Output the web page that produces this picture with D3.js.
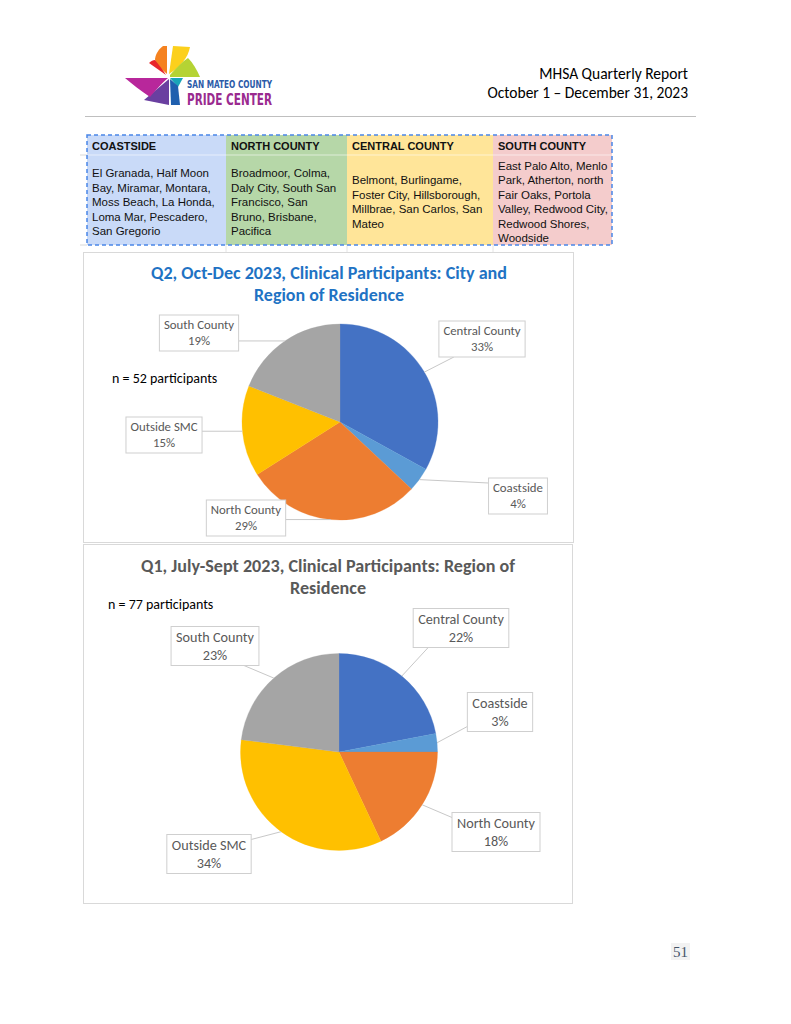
<!DOCTYPE html>
<html><head><meta charset="utf-8">
<script src="https://cdn.jsdelivr.net/npm/d3@7/dist/d3.min.js"></script>
<style>body{margin:0;background:#fff}svg{display:block}</style>
</head><body><svg id="page" width="791" height="1024"></svg>
<script>
// ---------------- data ----------------
const regionColumns = ["COASTSIDE", "NORTH COUNTY", "CENTRAL COUNTY", "SOUTH COUNTY"];
const regionCities = [
  ["El Granada, Half Moon", "Bay, Miramar, Montara,", "Moss Beach, La Honda,", "Loma Mar, Pescadero,", "San Gregorio"],
  ["Broadmoor, Colma,", "Daly City, South San", "Francisco, San", "Bruno, Brisbane,", "Pacifica"],
  ["Belmont, Burlingame,", "Foster City, Hillsborough,", "Millbrae, San Carlos, San", "Mateo"],
  ["East Palo Alto, Menlo", "Park, Atherton, north", "Fair Oaks, Portola", "Valley, Redwood City,", "Redwood Shores,", "Woodside"]
];
const categories = ["Central County", "Coastside", "North County", "Outside SMC", "South County"];
const q2Values = [33, 4, 29, 15, 19];   // percent, Oct-Dec 2023
const q1Values = [22, 3, 18, 34, 23];   // percent, July-Sept 2023
const q2Participants = 52;
const q1Participants = 77;
const q2Title = ["Q2, Oct-Dec 2023, Clinical Participants: City and", "Region of Residence"];
const q1Title = ["Q1, July-Sept 2023, Clinical Participants: Region of", "Residence"];
const headerLines = ["MHSA Quarterly Report", "October 1 \u2013 December 31, 2023"];
const pageNumber = "51";

// ---------------- styles / layout ----------------
const sliceColors = ["#4472C4", "#5B9BD5", "#ED7D31", "#FFC000", "#A5A5A5"];
const columnFills = ["#c9daf8", "#b6d7a8", "#ffe599", "#f4cccc"];
const CAL = "Carlito, Calibri, Lato, 'Open Sans', sans-serif";
const ARIAL = "'Liberation Sans', Arial, sans-serif";

const svg = d3.select("#page");
svg.append("rect").attr("width", 791).attr("height", 1024).attr("fill", "#fff");

// ---------------- logo ----------------
const petals = [
  ["#f58220", "M167,74 C160,68 155,63 155,59 C156,53 159,49 163,46 L167,46 Z"],
  ["#fcd01c", "M169,74 L173,46 L190,47 C188,58 180,67 169,74 Z"],
  ["#e8262a", "M166,75 L149,63 C151,61 153,60 155,60 C159,65 163,70 166,75 Z"],
  ["#b5d334", "M170,75 C176,68 182,62 188,58 C193,63 197,70 200,77 L170,77 Z"],
  ["#19a5b8", "M170,78 L183,78 L178,87 Z"],
  ["#1f5fae", "M170,79 L178,86 L180,105 L171,105 Z"],
  ["#6a3fa0", "M169,79 L169,105 L144,100 Z"],
  ["#b8279b", "M125,78 L168,78 C160,85 155,91 150,97 C140,90 132,84 125,78 Z"]
];
svg.append("g").selectAll("path").data(petals).join("path").attr("fill", d => d[0]).attr("d", d => d[1]);
svg.append("text").attr("x", 187).attr("y", 88).attr("font-family", "'Liberation Sans Narrow', 'DejaVu Sans Condensed', sans-serif")
  .attr("font-weight", "bold").attr("font-size", 11).attr("fill", "#2b5aa8")
  .attr("textLength", 85).attr("lengthAdjust", "spacingAndGlyphs").text("SAN MATEO COUNTY");
svg.append("text").attr("x", 187).attr("y", 105).attr("font-family", "'Liberation Sans Narrow', 'DejaVu Sans Condensed', sans-serif")
  .attr("font-weight", "bold").attr("font-size", 16.5).attr("fill", "#9a2a8f")
  .attr("textLength", 85).attr("lengthAdjust", "spacingAndGlyphs").text("PRIDE CENTER");

// ---------------- header ----------------
svg.selectAll("text.hdr").data(headerLines).join("text").attr("class", "hdr")
  .attr("x", 688).attr("y", (d, i) => 79 + i * 19).attr("text-anchor", "end")
  .attr("font-family", CAL).attr("font-size", 15.5).attr("fill", "#000").text(d => d);
svg.append("line").attr("x1", 85).attr("x2", 696).attr("y1", 116.5).attr("y2", 116.5)
  .attr("stroke", "#bfbfbf").attr("stroke-width", 1);

// ---------------- region table ----------------
const colEdges = [87, 226, 347, 493, 612];
const tTop = 135, tHead = 155, tBot = 245;
const tbl = svg.append("g");
[155, 245].forEach(y => tbl.append("line").attr("x1", 80).attr("x2", 87).attr("y1", y).attr("y2", y).attr("stroke", "#d8d8d8"));
colEdges.slice(1, 4).forEach(x => tbl.append("line").attr("x1", x).attr("x2", x).attr("y1", 245).attr("y2", 252).attr("stroke", "#e4e4e4"));
regionColumns.forEach((c, i) => {
  const x0 = colEdges[i], x1 = colEdges[i + 1];
  tbl.append("rect").attr("x", x0).attr("y", tTop).attr("width", x1 - x0).attr("height", tBot - tTop).attr("fill", columnFills[i]);
  tbl.append("text").attr("x", x0 + 5).attr("y", 150).attr("font-family", ARIAL).attr("font-weight", "bold")
    .attr("font-size", 11).attr("fill", "#111").text(c);
  const lines = regionCities[i];
  const n = lines.length;
  tbl.selectAll(null).data(lines).join("text").attr("x", x0 + 5)
    .attr("y", (d, j) => 206 + (j - (n - 1) / 2) * 14.5)
    .attr("font-family", ARIAL).attr("font-size", 11.5).attr("fill", "#111").text(d => d);
});
tbl.append("line").attr("x1", 87).attr("x2", 612).attr("y1", tHead).attr("y2", tHead).attr("stroke", "#ffffff").attr("stroke-opacity", 0.55);
tbl.append("rect").attr("x", 87).attr("y", tTop).attr("width", 612 - 87).attr("height", tBot - tTop)
  .attr("fill", "none").attr("stroke", "#4a86e8").attr("stroke-width", 1.5).attr("stroke-dasharray", "4,3");

// ---------------- pie charts ----------------
function pieChart(cfg) {
  const g = svg.append("g");
  g.append("rect").attr("x", cfg.box[0] + 0.5).attr("y", cfg.box[1] + 0.5).attr("width", cfg.box[2]).attr("height", cfg.box[3])
    .attr("fill", "#fff").attr("stroke", "#d9d9d9");
  g.selectAll("text.title").data(cfg.title).join("text").attr("class", "title")
    .attr("x", cfg.titleX).attr("y", (d, i) => cfg.titleY + i * 22).attr("text-anchor", "middle")
    .attr("font-family", CAL).attr("font-weight", "bold").attr("font-size", 17).attr("fill", cfg.titleColor)
    .attr("textLength", (d, i) => cfg.titleLen[i]).attr("lengthAdjust", "spacingAndGlyphs").text(d => d);
  g.append("text").attr("x", cfg.nPos[0]).attr("y", cfg.nPos[1]).attr("font-family", CAL).attr("font-size", 14)
    .attr("fill", "#000").text(`n = ${cfg.n} participants`);

  const pie = d3.pie().sort(null).value(d => d.v);
  const arcs = pie(cfg.values.map((v, i) => ({ v, c: categories[i], col: sliceColors[i] })));
  const arc = d3.arc().innerRadius(0).outerRadius(cfg.r);
  const pg = g.append("g").attr("transform", `translate(${cfg.cx},${cfg.cy})`);
  pg.selectAll("path").data(arcs).join("path").attr("d", arc).attr("fill", d => d.data.col)
    .attr("stroke", d => d.data.col).attr("stroke-width", 0.3);

  const fmt = d3.format(".0%");
  arcs.forEach((a, i) => {
    const mid = (a.startAngle + a.endAngle) / 2;
    const px = cfg.cx + cfg.r * Math.sin(mid), py = cfg.cy - cfg.r * Math.cos(mid);
    const lg = g.append("g");
    const bx = cfg.cx + cfg.labelOffsets[i][0], by = cfg.cy + cfg.labelOffsets[i][1];
    const t1 = lg.append("text").attr("x", bx).attr("y", by - cfg.lineGap / 2 + cfg.fs * 0.35)
      .attr("text-anchor", "middle").attr("font-family", CAL).attr("font-size", cfg.fs).attr("fill", "#595959").text(a.data.c);
    lg.append("text").attr("x", bx).attr("y", by + cfg.lineGap / 2 + cfg.fs * 0.35)
      .attr("text-anchor", "middle").attr("font-family", CAL).attr("font-size", cfg.fs).attr("fill", "#595959").text(fmt(a.data.v / 100));
    const w = t1.node().getComputedTextLength() + 2 * cfg.pad, h = cfg.boxH;
    const x0 = bx - w / 2, x1 = bx + w / 2, y0 = by - h / 2, y1 = by + h / 2;
    lg.insert("rect", "text").attr("x", x0).attr("y", y0).attr("width", w).attr("height", h)
      .attr("fill", "#fff").attr("stroke", "#cfcfcf").attr("stroke-width", 1);
    const gx = px < x0 ? x0 - px : (px > x1 ? px - x1 : 0);
    const gy = py < y0 ? y0 - py : (py > y1 ? py - y1 : 0);
    let ax, ay;
    if (gx > gy + 5) {
      ax = px < x0 ? x0 : x1;
      ay = Math.max(y0 + 5, Math.min(y1 - 5, py));
    } else {
      ay = py < y0 ? y0 : y1;
      ax = Math.max(x0 + 15, Math.min(x1 - 15, px));
    }
    lg.insert("line", "rect").attr("x1", px).attr("y1", py).attr("x2", ax).attr("y2", ay)
      .attr("stroke", "#c8c8c8").attr("stroke-width", 1);
  });
}

pieChart({
  box: [83, 252, 490, 290], title: q2Title, titleX: 329, titleY: 279, titleLen: [356, 150], titleColor: "#1f73c4",
  n: q2Participants, nPos: [112, 383], values: q2Values, cx: 340, cy: 422, r: 98,
  labelOffsets: [[142, -83], [178, 74], [-94, 96], [-176, 13], [-141, -89]],
  fs: 12.8, lineGap: 16, pad: 4.5, boxH: 36
});
pieChart({
  box: [83, 544, 489, 359], title: q1Title, titleX: 328, titleY: 572, titleLen: [374, 76], titleColor: "#595959",
  n: q1Participants, nPos: [108, 609], values: q1Values, cx: 339, cy: 752, r: 98.5,
  labelOffsets: [[122, -124], [161, -40], [157, 80], [-130, 102], [-124, -106]],
  fs: 14.2, lineGap: 18, pad: 5, boxH: 39
});

// ---------------- page number ----------------
svg.append("rect").attr("x", 671).attr("y", 943).attr("width", 19).attr("height", 17).attr("fill", "#f2f2f2");
svg.append("text").attr("x", 680.5).attr("y", 957).attr("text-anchor", "middle").attr("font-family", "'Liberation Serif', 'Times New Roman', serif")
  .attr("font-size", 15).attr("fill", "#44546a").text(pageNumber);
</script></body></html>
